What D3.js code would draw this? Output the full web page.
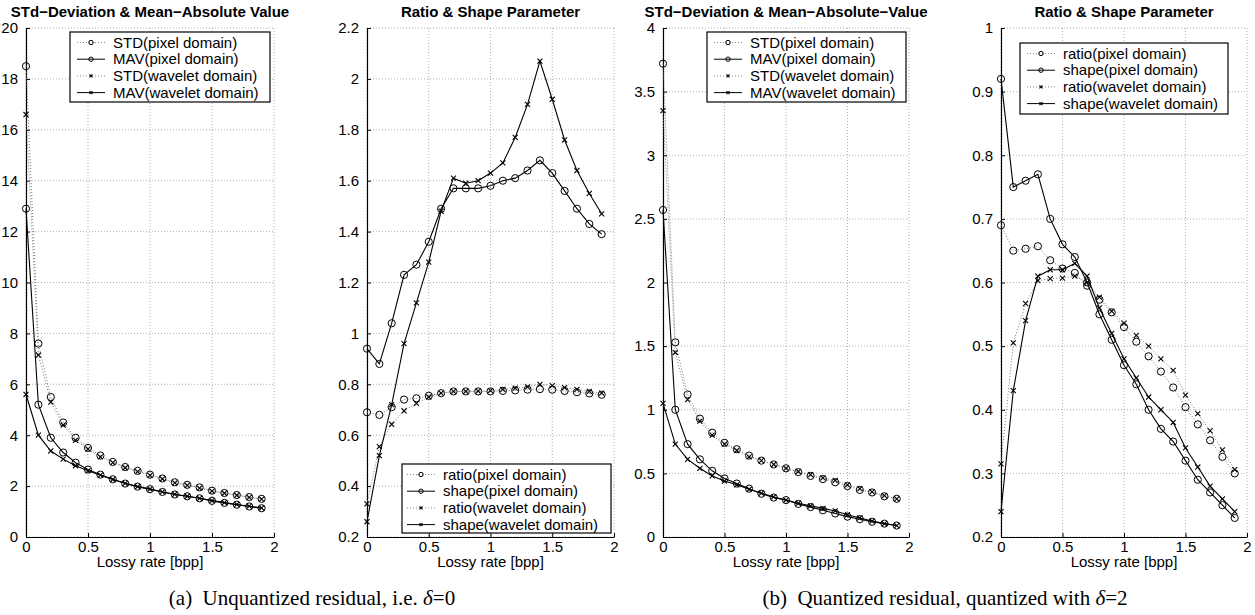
<!DOCTYPE html>
<html>
<head>
<meta charset="utf-8">
<title>Residual statistics</title>
<script src="https://cdn.jsdelivr.net/npm/d3@7"></script>
<style>
  body { margin: 0; background: #fff; }
  text { font-family: "Liberation Sans", Arial, sans-serif; }
  .cap { font-family: "Liberation Serif", "Times New Roman", serif; }
</style>
</head>
<body>
<script>
// lossy rates (bpp)
const rates = [0, 0.1, 0.2, 0.3, 0.4, 0.5, 0.6, 0.7, 0.8, 0.9, 1.0, 1.1, 1.2, 1.3, 1.4, 1.5, 1.6, 1.7, 1.8, 1.9];

// (a) unquantized, delta = 0
const stdPixelA  = [18.5, 7.6, 5.5, 4.5, 3.9, 3.5, 3.2, 2.95, 2.75, 2.6, 2.45, 2.3, 2.15, 2.05, 1.95, 1.82, 1.73, 1.65, 1.57, 1.5];
const mavPixelA  = [12.9, 5.2, 3.9, 3.32, 2.92, 2.65, 2.45, 2.27, 2.1, 1.98, 1.88, 1.77, 1.67, 1.6, 1.52, 1.42, 1.34, 1.27, 1.2, 1.13];
const stdWaveA   = [16.6, 7.15, 5.3, 4.4, 3.8, 3.45, 3.15, 2.92, 2.72, 2.57, 2.42, 2.28, 2.13, 2.03, 1.92, 1.8, 1.72, 1.64, 1.56, 1.49];
const mavWaveA   = [5.6, 4.0, 3.38, 3.06, 2.8, 2.6, 2.43, 2.26, 2.11, 1.98, 1.88, 1.77, 1.68, 1.6, 1.52, 1.43, 1.35, 1.28, 1.21, 1.14];

const ratioPixelA = [0.69, 0.68, 0.71, 0.74, 0.745, 0.755, 0.765, 0.772, 0.772, 0.772, 0.772, 0.774, 0.776, 0.779, 0.781, 0.779, 0.774, 0.769, 0.764, 0.759];
const shapePixelA = [0.94, 0.88, 1.04, 1.23, 1.27, 1.36, 1.49, 1.57, 1.57, 1.57, 1.58, 1.6, 1.61, 1.64, 1.68, 1.63, 1.56, 1.49, 1.43, 1.39];
const ratioWaveA  = [0.33, 0.555, 0.643, 0.696, 0.725, 0.75, 0.765, 0.772, 0.772, 0.773, 0.775, 0.78, 0.785, 0.79, 0.8, 0.795, 0.787, 0.78, 0.772, 0.765];
const shapeWaveA  = [0.26, 0.52, 0.72, 0.96, 1.12, 1.28, 1.48, 1.61, 1.59, 1.6, 1.63, 1.67, 1.77, 1.9, 2.07, 1.92, 1.76, 1.64, 1.55, 1.47];

// (b) quantized, delta = 2
const stdPixelB  = [3.72, 1.53, 1.12, 0.93, 0.82, 0.74, 0.69, 0.64, 0.6, 0.57, 0.54, 0.51, 0.48, 0.455, 0.43, 0.4, 0.37, 0.35, 0.32, 0.3];
const mavPixelB  = [2.57, 1.0, 0.73, 0.61, 0.52, 0.46, 0.42, 0.38, 0.34, 0.31, 0.29, 0.26, 0.235, 0.21, 0.185, 0.16, 0.14, 0.12, 0.105, 0.09];
const stdWaveB   = [3.35, 1.45, 1.08, 0.91, 0.8, 0.73, 0.68, 0.63, 0.6, 0.57, 0.54, 0.515, 0.49, 0.465, 0.445, 0.41, 0.38, 0.355, 0.325, 0.3];
const mavWaveB   = [1.05, 0.73, 0.61, 0.54, 0.48, 0.44, 0.41, 0.375, 0.345, 0.315, 0.29, 0.265, 0.245, 0.225, 0.205, 0.175, 0.15, 0.125, 0.105, 0.09];

const ratioPixelB = [0.69, 0.65, 0.653, 0.657, 0.635, 0.622, 0.615, 0.595, 0.573, 0.553, 0.53, 0.507, 0.484, 0.46, 0.435, 0.404, 0.377, 0.352, 0.326, 0.3];
const shapePixelB = [0.92, 0.75, 0.76, 0.77, 0.7, 0.66, 0.64, 0.6, 0.55, 0.51, 0.47, 0.44, 0.4, 0.37, 0.35, 0.32, 0.29, 0.27, 0.25, 0.23];
const ratioWaveB  = [0.315, 0.505, 0.567, 0.603, 0.606, 0.607, 0.61, 0.6, 0.577, 0.555, 0.536, 0.517, 0.5, 0.48, 0.462, 0.423, 0.394, 0.367, 0.337, 0.306];
const shapeWaveB  = [0.24, 0.43, 0.54, 0.61, 0.62, 0.62, 0.63, 0.61, 0.56, 0.52, 0.48, 0.45, 0.42, 0.4, 0.38, 0.34, 0.31, 0.28, 0.26, 0.24];

const xTicks = [0, 0.5, 1, 1.5, 2];
const yTicks1 = [0, 2, 4, 6, 8, 10, 12, 14, 16, 18, 20];
const yTicks2 = [0.2, 0.4, 0.6, 0.8, 1, 1.2, 1.4, 1.6, 1.8, 2, 2.2];
const yTicks3 = [0, 0.5, 1, 1.5, 2, 2.5, 3, 3.5, 4];
const yTicks4 = [0.2, 0.3, 0.4, 0.5, 0.6, 0.7, 0.8, 0.9, 1];

const titles = ["STd\u2212Deviation & Mean\u2212Absolute Value", "Ratio & Shape Parameter",
                "STd\u2212Deviation & Mean\u2212Absolute\u2212Value", "Ratio & Shape Parameter"];
const stdNames = ["STD(pixel domain)", "MAV(pixel domain)", "STD(wavelet domain)", "MAV(wavelet domain)"];
const ratioNames = ["ratio(pixel domain)", "shape(pixel domain)", "ratio(wavelet domain)", "shape(wavelet domain)"];
const xLabel = "Lossy rate [bpp]";

const width = 1255, height = 615;
const svg = d3.select("body").append("svg").attr("width", width).attr("height", height);

// style per series slot: dotted/solid, circle/x
const styles = [
  { dash: true, mark: "o" },
  { dash: false, mark: "o" },
  { dash: true, mark: "x" },
  { dash: false, mark: "x" }
];

const panels = [
  { x0: 26, x1: 274, ticks: yTicks1, title: titles[0], names: stdNames, series: [stdPixelA, mavPixelA, stdWaveA, mavWaveA], legend: { x: 70, y: 32, w: 200, h: 70, sx: 77 } },
  { x0: 367, x1: 614, ticks: yTicks2, title: titles[1], names: ratioNames, series: [ratioPixelA, shapePixelA, ratioWaveA, shapeWaveA], legend: { x: 402, y: 464, w: 209, h: 69, sx: 407 } },
  { x0: 663, x1: 909, ticks: yTicks3, title: titles[2], names: stdNames, series: [stdPixelB, mavPixelB, stdWaveB, mavWaveB], legend: { x: 707, y: 32, w: 199, h: 70, sx: 714 } },
  { x0: 1001, x1: 1247, ticks: yTicks4, title: titles[3], names: ratioNames, series: [ratioPixelB, shapePixelB, ratioWaveB, shapeWaveB], legend: { x: 1020, y: 43, w: 208, h: 71, sx: 1027 } }
];

const plotTop = 28, plotBottom = 537;
const fmt = v => String(+v.toFixed(2));

function drawMarker(g, mark, cx, cy, r) {
  if (mark === "o") {
    g.append("circle").attr("cx", cx).attr("cy", cy).attr("r", r)
      .attr("fill", "none").attr("stroke", "#000").attr("stroke-width", 1);
  } else {
    const s = r * 0.7;
    g.append("path")
      .attr("d", `M${cx - s},${cy - s}L${cx + s},${cy + s}M${cx - s},${cy + s}L${cx + s},${cy - s}`)
      .attr("stroke", "#000").attr("stroke-width", 1.1);
  }
}

panels.forEach(p => {
  const x = d3.scaleLinear().domain([0, 2]).range([p.x0, p.x1]);
  const y = d3.scaleLinear().domain([p.ticks[0], p.ticks[p.ticks.length - 1]]).range([plotBottom, plotTop]);
  const g = svg.append("g");

  // dotted grid
  g.append("g").selectAll("line").data(p.ticks).enter().append("line")
    .attr("x1", p.x0).attr("x2", p.x1)
    .attr("y1", d => y(d)).attr("y2", d => y(d))
    .attr("stroke", "#999").attr("stroke-width", 0.8).attr("stroke-dasharray", "1,2");
  g.append("g").selectAll("line").data(xTicks).enter().append("line")
    .attr("x1", d => x(d)).attr("x2", d => x(d))
    .attr("y1", plotTop).attr("y2", plotBottom)
    .attr("stroke", "#999").attr("stroke-width", 0.8).attr("stroke-dasharray", "1,2");

  // axes, ticks pointing inwards like matlab
  const yAxis = d3.axisLeft(y).tickValues(p.ticks).tickFormat(fmt).tickSizeInner(-4).tickSizeOuter(0).tickPadding(8);
  const xAxis = d3.axisBottom(x).tickValues(xTicks).tickFormat(fmt).tickSizeInner(-4).tickSizeOuter(0).tickPadding(6);
  const ya = g.append("g").attr("transform", `translate(${p.x0},0)`).call(yAxis);
  const xa = g.append("g").attr("transform", `translate(0,${plotBottom})`).call(xAxis);
  [ya, xa].forEach(a => {
    a.select(".domain").attr("stroke", "#000").attr("stroke-width", 1.2);
    a.selectAll(".tick line").attr("stroke", "#000");
    a.selectAll("text").attr("font-size", 15).attr("fill", "#000").attr("font-family", "Liberation Sans, Arial, sans-serif");
  });
  xa.selectAll("text").attr("dy", "0.62em");

  // series
  p.series.forEach((vals, i) => {
    const st = styles[i];
    const line = d3.line().x((d, j) => x(rates[j])).y(d => y(d));
    g.append("path").datum(vals).attr("d", line)
      .attr("fill", "none")
      .attr("stroke", st.dash ? "#777" : "#000")
      .attr("stroke-width", st.dash ? 1 : 1.1)
      .attr("stroke-dasharray", st.dash ? "1,2" : null);
    vals.forEach((v, j) => drawMarker(g, st.mark, x(rates[j]), y(v), 3.6));
  });

  // title
  g.append("text").attr("x", (p.x0 + p.x1) / 2).attr("y", 17)
    .attr("text-anchor", "middle").attr("font-size", 15).attr("font-weight", "bold")
    .text(p.title);

  // x label
  g.append("text").attr("x", (p.x0 + p.x1) / 2).attr("y", 567)
    .attr("text-anchor", "middle").attr("font-size", 15).text(xLabel);

  // legend
  const L = p.legend;
  const lg = g.append("g");
  lg.append("rect").attr("x", L.x).attr("y", L.y).attr("width", L.w).attr("height", L.h)
    .attr("fill", "#fff").attr("stroke", "#000").attr("stroke-width", 1.2);
  p.names.forEach((name, i) => {
    const st = styles[i];
    const cy = L.y + 10.5 + i * 16.7;
    lg.append("line").attr("x1", L.sx).attr("x2", L.sx + 28).attr("y1", cy).attr("y2", cy)
      .attr("stroke", st.dash ? "#888" : "#000").attr("stroke-width", 1)
      .attr("stroke-dasharray", st.dash ? "1,2" : null);
    drawMarker(lg, st.mark, L.sx + 14, cy, 2.2);
    lg.append("text").attr("x", L.sx + 36).attr("y", cy).attr("dy", "0.35em")
      .attr("font-size", 15).text(name);
  });
});

// sub-figure captions
const captions = [
  { cx: 312, pre: "(a)\u2002Unquantized residual, i.e. ", val: "=0" },
  { cx: 945, pre: "(b)\u2002Quantized residual, quantized with ", val: "=2" }
];
captions.forEach(c => {
  const t = svg.append("text").attr("class", "cap").attr("x", c.cx).attr("y", 605)
    .attr("text-anchor", "middle").attr("font-size", 21);
  t.append("tspan").text(c.pre);
  t.append("tspan").attr("font-style", "italic").text("\u03b4");
  t.append("tspan").text(c.val);
});
</script>
</body>
</html>
